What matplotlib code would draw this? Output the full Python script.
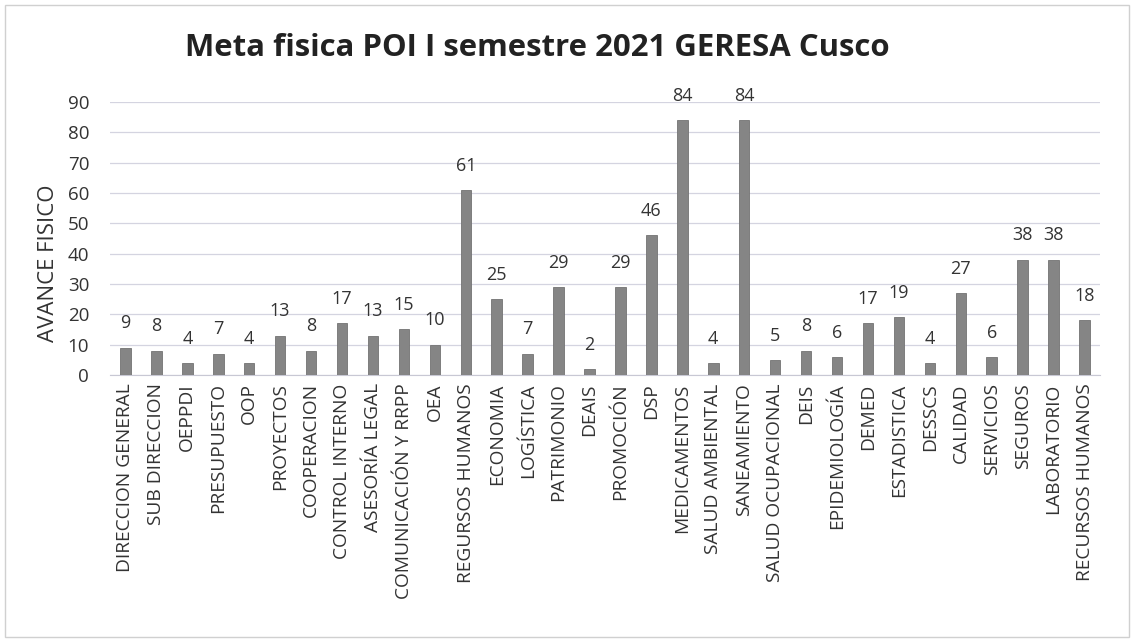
from matplotlib import pyplot as plt
from matplotlib.patches import Rectangle

#%% Data
areas = ['DIRECCION GENERAL', 'SUB DIRECCION', 'OEPPDI', 'PRESUPUESTO', 'OOP',
         'PROYECTOS', 'COOPERACION', 'CONTROL INTERNO', 'ASESORÍA LEGAL',
         'COMUNICACIÓN Y RRPP', 'OEA', 'REGURSOS HUMANOS', 'ECONOMIA', 'LOGÍSTICA',
         'PATRIMONIO', 'DEAIS', 'PROMOCIÓN', 'DSP', 'MEDICAMENTOS', 'SALUD AMBIENTAL',
         'SANEAMIENTO', 'SALUD OCUPACIONAL', 'DEIS', 'EPIDEMIOLOGÍA', 'DEMED',
         'ESTADISTICA', 'DESSCS', 'CALIDAD', 'SERVICIOS', 'SEGUROS', 'LABORATORIO',
         'RECURSOS HUMANOS']
avance = [9, 8, 4, 7, 4, 13, 8, 17, 13, 15, 10, 61, 25, 7, 29, 2, 29, 46, 84, 4,
          84, 5, 8, 6, 17, 19, 4, 27, 6, 38, 38, 18]
yticks = [0, 10, 20, 30, 40, 50, 60, 70, 80, 90]

#%% Plot
plt.rcParams['font.family'] = ['Open Sans', 'DejaVu Sans']
fig = plt.figure(figsize=(11.34, 6.41), dpi=100)
ax = fig.add_axes([0.097, 0.415, 0.873, 0.426])

x = list(range(len(areas)))
ax.bar(x, avance, width=0.34, color='#858585', edgecolor='#737373', linewidth=0.6, zorder=3)
for xi, v in zip(x, avance):
    ax.annotate(str(v), (xi, v), xytext=(0, 11), textcoords='offset points',
                ha='center', va='bottom', fontsize=13, color='#333333')

ax.set_xlim(-0.5, len(areas) - 0.5)
ax.set_ylim(0, 90)
ax.set_yticks(yticks)
ax.set_xticks(x)
ax.set_xticklabels(areas, rotation=90, fontsize=13.8, color='#333333')
ax.tick_params(axis='y', labelsize=13.5, colors='#333333', length=0, pad=15)
ax.tick_params(axis='x', length=0, pad=6)
ax.grid(axis='y', color='#d4d4e0', linewidth=0.9, zorder=0)
for s in ['top', 'right', 'left']:
    ax.spines[s].set_visible(False)
ax.spines['bottom'].set_color('#c8c8d4')
ax.set_ylabel('AVANCE FISICO', fontsize=16, color='#333333')
ax.yaxis.set_label_coords(-0.052, 0.41)

fig.text(0.474, 0.925, 'Meta fisica POI I semestre 2021 GERESA Cusco', ha='center', va='center',
         fontsize=22.4, fontweight='bold', color='#222222')
fig.patches.append(Rectangle((0.004, 0.006), 0.992, 0.986, transform=fig.transFigure,
                             fill=False, edgecolor='#d0d0d0', linewidth=1))

plt.savefig('out.png', dpi=100)
